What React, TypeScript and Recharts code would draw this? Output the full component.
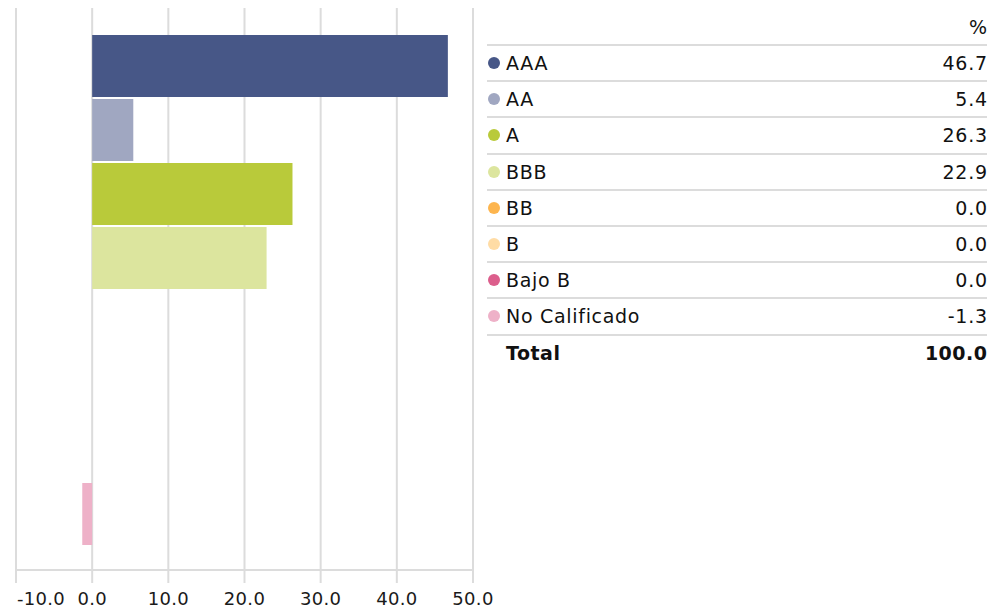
import React from 'react';
import { BarChart, Bar, XAxis, YAxis, CartesianGrid, Cell } from 'recharts';

const categories = ['AAA', 'AA', 'A', 'BBB', 'BB', 'B', 'Bajo B', 'No Calificado'];
const values = [46.7, 5.4, 26.3, 22.9, 0.0, 0.0, 0.0, -1.3];
const colors = ['#475787', '#A0A7C1', '#B9CA3A', '#DCE59E', '#FDB54E', '#FFDCA5', '#DC5E8C', '#EEB1C8'];
const xTicks = [-10, 0, 10, 20, 30, 40, 50];
const totalLabel = 'Total';
const totalValue = 100.0;
const unitLabel = '%';

const data = categories.map((name, i) => ({ name, value: values[i] }));

const FONT = '"DejaVu Sans", Verdana, sans-serif';
const GRID = '#dcdcdc';

function XTick(props: any) {
  const { x, y, payload, index } = props;
  const first = index === 0;
  return (
    <text
      x={first ? x + 1 : x}
      y={y}
      dy="0.71em"
      textAnchor={first ? 'start' : 'middle'}
      fill="#1a1a1a"
      fontSize={18}
      letterSpacing={0.3}
      fontFamily={FONT}
    >
      {Number(payload.value).toFixed(1)}
    </text>
  );
}

export default function App() {
  const rowStyle: React.CSSProperties = {
    height: 36.2,
    boxSizing: 'border-box',
    borderTop: `2px solid ${GRID}`,
    display: 'flex',
    alignItems: 'center',
  };
  return (
    <div style={{ position: 'absolute', left: 0, top: 0, width: 994, height: 608, background: '#fff', fontFamily: FONT }}>
      <div style={{ position: 'absolute', left: 0, top: 0 }}>
        <BarChart
          width={500}
          height={608}
          data={data}
          layout="vertical"
          margin={{ top: 8, right: 27, left: 16, bottom: 0 }}
          barCategoryGap={1}
        >
          <CartesianGrid horizontal={false} stroke={GRID} strokeWidth={2} />
          <XAxis
            type="number"
            domain={[-10, 50]}
            ticks={xTicks}
            interval={0}
            allowDataOverflow
            height={38}
            tickSize={13}
            tickMargin={9}
            axisLine={{ stroke: GRID, strokeWidth: 2 }}
            tickLine={{ stroke: GRID, strokeWidth: 2 }}
            tick={<XTick />}
          />
          <XAxis
            xAxisId="top"
            orientation="top"
            type="number"
            domain={[-10, 50]}
            height={0}
            tick={false}
            tickLine={false}
            axisLine={{ stroke: GRID, strokeWidth: 2 }}
          />
          <YAxis type="category" dataKey="name" hide padding={{ top: 26, bottom: 24 }} />
          <Bar dataKey="value" isAnimationActive={false}>
            {data.map((d, i) => (
              <Cell key={d.name} fill={colors[i]} />
            ))}
          </Bar>
        </BarChart>
      </div>

      <div style={{ position: 'absolute', left: 487, top: 8, width: 500, color: '#111', fontSize: 19, letterSpacing: 0.7 }}>
        <div style={{ height: 36, boxSizing: 'border-box', display: 'flex', alignItems: 'center', justifyContent: 'flex-end', paddingTop: 2, marginRight: -0.7 }}>
          {unitLabel}
        </div>
        {categories.map((name, i) => (
          <div key={name} style={rowStyle}>
            <span
              style={{
                display: 'inline-block',
                width: 12,
                height: 12,
                borderRadius: '50%',
                background: colors[i],
                marginLeft: 1,
                marginRight: 6,
              }}
            />
            <span style={{ flex: 1 }}>{name}</span>
            <span style={{ marginRight: -0.7 }}>{values[i].toFixed(1)}</span>
          </div>
        ))}
        <div style={{ ...rowStyle, fontWeight: 'bold', letterSpacing: 0.5 }}>
          <span style={{ flex: 1, paddingLeft: 19 }}>{totalLabel}</span>
          <span style={{ marginRight: -0.5 }}>{totalValue.toFixed(1)}</span>
        </div>
      </div>
    </div>
  );
}
